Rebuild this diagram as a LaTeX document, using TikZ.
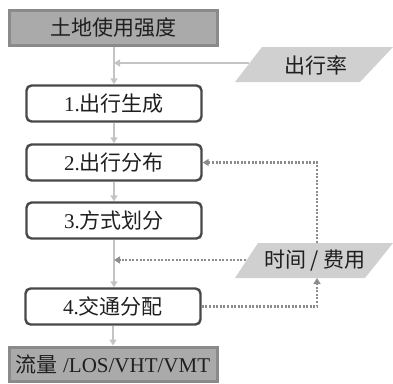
\documentclass[tikz,border=0pt]{standalone}
\usepackage{fontspec}
\setmainfont{Liberation Serif}
\newfontfamily\cjk{Noto Sans CJK SC}
\usetikzlibrary{arrows.meta}
\definecolor{hdrfill}{HTML}{AAAAAA}
\definecolor{hdrdraw}{HTML}{8A8A8A}
\definecolor{boxdraw}{HTML}{484848}
\definecolor{parfill}{HTML}{D0D0D0}
\definecolor{flow}{HTML}{C4C4C4}
\definecolor{dotc}{HTML}{8C8C8C}
\tikzset{
  txt/.style={font=\fontsize{21}{23}\selectfont, text=black!88, inner sep=0pt},
  hdr/.style={txt, draw=hdrdraw, fill=hdrfill, line width=3pt, minimum width=208pt, minimum height=35pt},
  stepbox/.style={txt, draw=boxdraw, fill=white, line width=2.4pt, rounded corners=5pt, minimum width=175pt, minimum height=36pt},
  flowline/.style={draw=flow, line width=1.6pt, -{Triangle[width=7pt,length=6pt]}},
  dotline/.style={draw=dotc, line width=2.2pt, dash pattern=on 2pt off 1.6pt, -{Triangle[width=7pt,length=6pt]}},
}
\begin{document}
\begin{tikzpicture}[x=1pt,y=-1pt]
\useasboundingbox (0,0) rectangle (393,383);
% parallelograms
\fill[parfill] (235,82) -- (262,47) -- (393,47) -- (360,82) -- cycle;
\fill[parfill] (235,278) -- (258,243) -- (393,243) -- (365,278) -- cycle;
\node[txt] (rate) at (316,65) {\cjk 出行率};
\node[txt] (cost) at (315,261) {\cjk 时间 / 费用};
\coordinate (rateL) at (249,63);
\coordinate (costL) at (246,260);
\coordinate (costT) at (317,243);
\coordinate (costB) at (317,278);
% boxes
\node[hdr] (top) at (113,27.5) {\cjk 土地使用强度};
\node[stepbox] (b1) at (114,103.5) {1.{\cjk 出行生成}};
\node[stepbox] (b2) at (114,162.5) {2.{\cjk 出行分布}};
\node[stepbox] (b3) at (114,220.5) {3.{\cjk 方式划分}};
\node[stepbox] (b4) at (113,306.5) {4.{\cjk 交通分配}};
\node[hdr, minimum height=34pt] (bot) at (113,364) {{\cjk 流量} /LOS/VHT/VMT};
% main flow
\coordinate (m1) at (114,63);
\coordinate (m2) at (114,260);
\draw[flowline] (top.south -| b1.north) -- (b1.north);
\draw[flowline] (rateL) -- (m1);
\draw[flowline] (b1) -- (b2);
\draw[flowline] (b2) -- (b3);
\draw[flowline] (b3.south) -- (b3.south |- b4.north);
\draw[flowline] (b4.south) -- (b4.south |- bot.north);
% feedback
\draw[dotline] (b4.east) -| (costB);
\draw[dotline] (costT) |- (b2.east);
\draw[dotline] (costL) -- (m2);
\end{tikzpicture}
\end{document}
